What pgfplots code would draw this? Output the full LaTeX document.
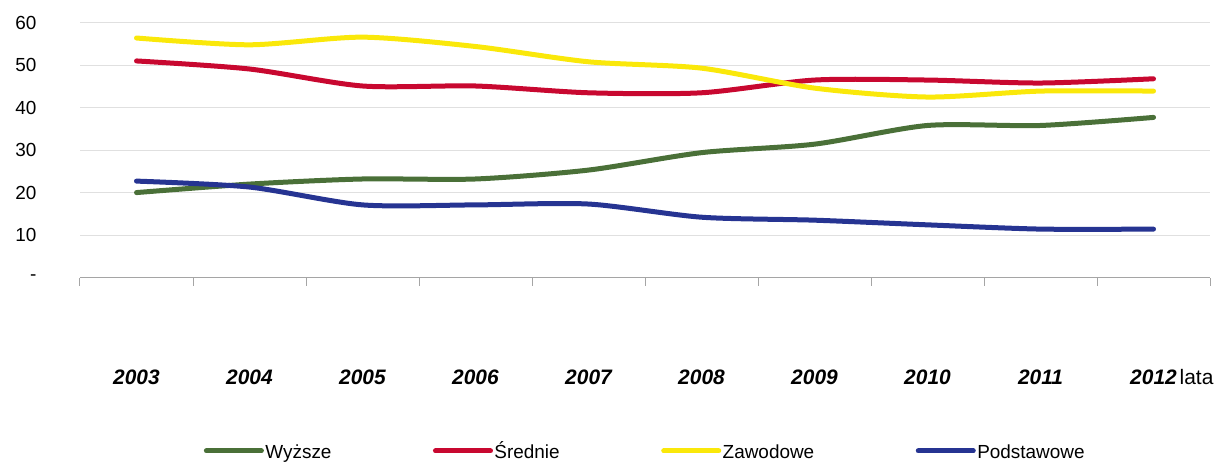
\documentclass[border=0pt]{standalone}
\usepackage{fontspec}
\setmainfont{Liberation Sans}
\usepackage{pgfplots}
\pgfplotsset{compat=1.18}

\definecolor{cWyz}{RGB}{74,112,56}
\definecolor{cSre}{RGB}{200,8,48}
\definecolor{cZaw}{RGB}{250,232,10}
\definecolor{cPod}{RGB}{38,52,146}
\definecolor{gridc}{RGB}{224,224,224}
\definecolor{axc}{RGB}{165,165,165}

% same height for every legend text
\newcommand{\lgd}[1]{\vphantom{Śy}#1}

\begin{document}
\begin{tikzpicture}
\begin{axis}[
  name=ax,
  scale only axis,
  width=1130bp, height=277.5bp,
  xmin=0.5, xmax=10.5, ymin=0, ymax=65.35,
  clip=false,
  axis x line*=bottom, axis y line*=left,
  x axis line style={draw=axc, line width=1.2bp},
  y axis line style={draw=none},
  xtick={1,...,10},
  xticklabels={2003,2004,2005,2006,2007,2008,2009,2010,2011,2012},
  minor xtick={0.5,1.5,...,10.5},
  major tick length=0pt,
  minor tick length=8bp,
  tick align=outside,
  minor tick style={draw=axc, line width=1bp},
  xticklabel style={font=\fontsize{21}{21}\selectfont\bfseries\itshape, anchor=base, yshift=-107bp},
  ytick={0,10,20,30,40,50,60},
  yticklabels={-,10,20,30,40,50,60},
  yticklabel style={font=\fontsize{19}{19}\selectfont, anchor=east, xshift=-40bp},
  ymajorgrids,
  major grid style={draw=gridc, line width=1bp},
  /pgf/number format/assume math mode=true,
  legend columns=4,
  legend style={at={(0.5,-0.625)}, anchor=center, draw=none, fill=none,
    font=\fontsize{19}{19}\selectfont,
    /tikz/every even column/.append style={column sep=100bp},
    nodes={inner sep=1.5bp}},
  legend image code/.code={\draw[#1, line width=5bp, line cap=round] (0bp,0bp) -- (55bp,0bp);},
  every axis plot/.append style={line width=5bp, line cap=round, line join=round, smooth, tension=0.45},
]
% Wyższe
\addplot[cWyz] coordinates {(1,20.0) (2,22.0) (3,23.2) (4,23.2) (5,25.3) (6,29.4) (7,31.4) (8,35.8) (9,35.8) (10,37.7)};
\addlegendentry{\lgd{Wyższe}}
% Średnie
\addplot[cSre] coordinates {(1,51.0) (2,49.1) (3,45.1) (4,45.1) (5,43.5) (6,43.5) (7,46.5) (8,46.5) (9,45.8) (10,46.8)};
\addlegendentry{\lgd{Średnie}}
% Zawodowe
\addplot[cZaw] coordinates {(1,56.4) (2,54.8) (3,56.6) (4,54.4) (5,50.8) (6,49.3) (7,44.6) (8,42.5) (9,43.9) (10,43.9)};
\addlegendentry{\lgd{Zawodowe}}
% Podstawowe
\addplot[cPod] coordinates {(1,22.7) (2,21.3) (3,17.1) (4,17.1) (5,17.3) (6,14.2) (7,13.5) (8,12.4) (9,11.4) (10,11.4)};
\addlegendentry{\lgd{Podstawowe}}

% unit label after the last year
\node[anchor=base west, inner sep=0pt, font=\fontsize{21}{21}\selectfont] at (axis cs:10.23,-25.3) {lata};
\end{axis}
\pgfresetboundingbox
\path[use as bounding box] ([shift={(-80bp,-188.5bp)}]ax.south west) rectangle ([shift={(7bp,0bp)}]ax.north east);
\end{tikzpicture}
\end{document}
